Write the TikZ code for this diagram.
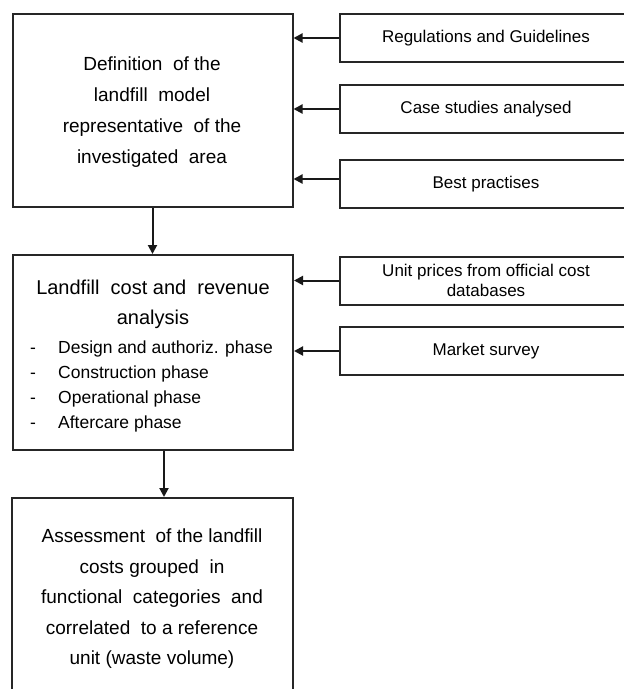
\documentclass[tikz,border=0pt]{standalone}
\usepackage{fontspec}
\setmainfont{Liberation Sans}
\usetikzlibrary{arrows.meta}
\begin{document}
\begin{tikzpicture}[x=1pt,y=-1pt,
  box/.style={draw=black!85,line width=2pt,inner sep=0pt,fill=white},
  srcbox/.style={box,minimum width=292pt,minimum height=48pt,align=center,
    font=\fontsize{17}{21}\selectfont},
  txt/.style={align=center,inner sep=0pt,font=\fontsize{19}{31}\selectfont},
  flow/.style={draw=black!90,line width=2pt,-{Triangle[length=9pt,width=9pt]}}]
\useasboundingbox (0,0) rectangle (624,689);
\clip (0,0) rectangle (624,689);
% main boxes
\node[box,minimum width=280pt,minimum height=193pt] (b1) at (152.5,110.5) {};
\node[box,minimum width=280pt,minimum height=195pt] (b2) at (153,352.5) {};
\node[box,minimum width=281pt,minimum height=240pt] (b3) at (152.5,618) {};
% texts main
\node[txt] (t1) at (152,112) {Definition\ \ of the\\landfill\ \ model\\representative\ \ of the\\investigated\ \ area};
\node[txt,font=\fontsize{20}{30}\selectfont] (t2) at (153,304) {Landfill\ \ cost and\ \ revenue\\analysis};
\node[inner sep=0pt,align=left,anchor=west,font=\fontsize{17.5}{25}\selectfont] (t2l) at (30,386)
  {\makebox[28pt][l]{-}Design and authoriz. phase\\
   \makebox[28pt][l]{-}Construction phase\\
   \makebox[28pt][l]{-}Operational phase\\
   \makebox[28pt][l]{-}Aftercare phase};
\node[txt,font=\fontsize{19}{30.5}\selectfont] (t3) at (152,599) {Assessment\ \ of the landfill\\costs grouped\ \ in\\functional\ \ categories\ \ and\\correlated\ \ to a reference\\unit (waste volume)};
% source boxes
\node[srcbox] (reg) at (486,38) {Regulations and Guidelines};
\node[srcbox] (cas) at (486,109) {Case studies analysed};
\node[srcbox] (bes) at (486,184) {Best practises};
\node[srcbox,font=\fontsize{17}{20}\selectfont] (uni) at (486,280.5) {Unit prices from official cost\\databases};
\node[srcbox] (mar) at (486,351) {Market survey};
% connectors
\draw[flow] (reg.west) -- (reg.west -| b1.east);
\draw[flow] (cas.west) -- (cas.west -| b1.east);
\draw[flow] ([yshift=5pt]bes.west) -- ([yshift=5pt]bes.west -| b1.east);
\draw[flow] (uni.west) -- (uni.west -| b2.east);
\draw[flow] (mar.west) -- (mar.west -| b2.east);
\draw[flow] (b1.south) -- (b1.south |- b2.north);
\draw[flow] ([xshift=11pt]b2.south) -- ([xshift=11pt]b2.south |- b3.north);
\end{tikzpicture}
\end{document}
